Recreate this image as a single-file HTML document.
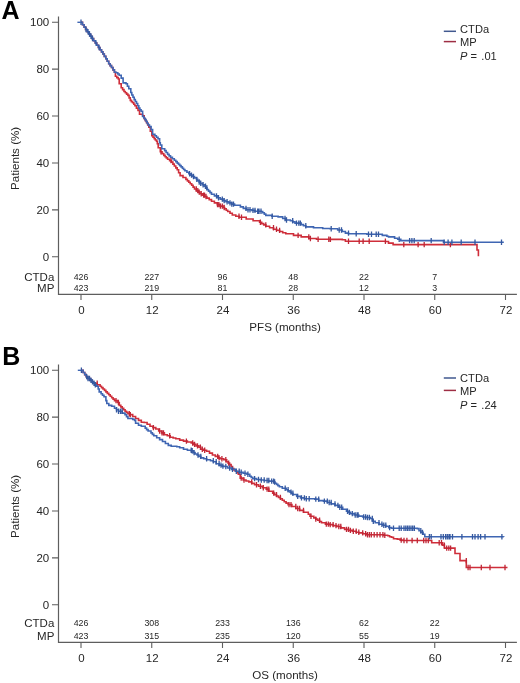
<!DOCTYPE html>
<html><head><meta charset="utf-8"><style>
html,body{margin:0;padding:0;background:#fff;}
svg{display:block;will-change:transform;}
text{font-family:"Liberation Sans",sans-serif;fill:#262626;}
.l{font-size:11.5px;}
.s{font-size:8.8px;}
.big{font-size:25px;font-weight:bold;fill:#000;}
</style></head><body>
<svg width="520" height="683" viewBox="0 0 520 683">
<path d="M58.5,16.6V294.4H516.9" fill="none" stroke="#5e5e5e" stroke-width="1.2"/>
<path d="M52,256.75H58.5M52,209.84H58.5M52,162.93H58.5M52,116.02H58.5M52,69.11H58.5M52,22.20H58.5M81.00,294.4V300.1M151.75,294.4V300.1M222.50,294.4V300.1M293.25,294.4V300.1M364.00,294.4V300.1M434.75,294.4V300.1M505.50,294.4V300.1" stroke="#5e5e5e" stroke-width="1.1"/>
<text x="49.2" y="261.00" text-anchor="end" class="l">0</text>
<text x="49.2" y="214.09" text-anchor="end" class="l">20</text>
<text x="49.2" y="167.18" text-anchor="end" class="l">40</text>
<text x="49.2" y="120.27" text-anchor="end" class="l">60</text>
<text x="49.2" y="73.36" text-anchor="end" class="l">80</text>
<text x="49.2" y="26.45" text-anchor="end" class="l">100</text>
<text x="81.50" y="314.10" text-anchor="middle" class="l">0</text>
<text x="152.25" y="314.10" text-anchor="middle" class="l">12</text>
<text x="223.00" y="314.10" text-anchor="middle" class="l">24</text>
<text x="293.75" y="314.10" text-anchor="middle" class="l">36</text>
<text x="364.50" y="314.10" text-anchor="middle" class="l">48</text>
<text x="435.25" y="314.10" text-anchor="middle" class="l">60</text>
<text x="506.00" y="314.10" text-anchor="middle" class="l">72</text>
<text x="285.10" y="330.60" text-anchor="middle" class="l" style="font-size:11.6px">PFS (months)</text>
<text transform="translate(18.9,158.4) rotate(-90)" text-anchor="middle" class="l" style="font-size:11.6px">Patients (%)</text>
<text x="1.5" y="19" class="big">A</text>
<text x="54.3" y="281.20" text-anchor="end" class="l">CTDa</text>
<text x="54.3" y="291.60" text-anchor="end" class="l">MP</text>
<text x="81.00" y="280.10" text-anchor="middle" class="s">426</text>
<text x="81.00" y="290.80" text-anchor="middle" class="s">423</text>
<text x="151.75" y="280.10" text-anchor="middle" class="s">227</text>
<text x="151.75" y="290.80" text-anchor="middle" class="s">219</text>
<text x="222.50" y="280.10" text-anchor="middle" class="s">96</text>
<text x="222.50" y="290.80" text-anchor="middle" class="s">81</text>
<text x="293.25" y="280.10" text-anchor="middle" class="s">48</text>
<text x="293.25" y="290.80" text-anchor="middle" class="s">28</text>
<text x="364.00" y="280.10" text-anchor="middle" class="s">22</text>
<text x="364.00" y="290.80" text-anchor="middle" class="s">12</text>
<text x="434.75" y="280.10" text-anchor="middle" class="s">7</text>
<text x="434.75" y="290.80" text-anchor="middle" class="s">3</text>
<path d="M443.8,31.3H456" stroke="#41598f" stroke-width="1.5"/>
<path d="M443.8,41.6H456" stroke="#9e2e44" stroke-width="1.5"/>
<text x="460.1" y="32.9" class="l" style="font-size:11.1px">CTDa</text>
<text x="460.1" y="46.3" class="l" style="font-size:11.1px">MP</text>
<text x="460" y="60.3" class="l" style="font-size:11.1px"><tspan font-style="italic">P</tspan> =<tspan dx="1.3"> .01</tspan></text>
<path d="M81.0,22.3 L82.5,22.3 L82.5,24.7 L84.1,24.7 L84.1,27.1 L85.6,27.1 L85.6,29.5 L87.2,29.5 L87.2,31.7 L88.8,31.7 L88.8,34.0 L90.4,34.0 L90.4,36.2 L92.0,36.2 L92.0,38.5 L93.6,38.5 L93.6,40.7 L95.2,40.7 L95.2,43.0 L96.8,43.0 L96.8,45.2 L98.4,45.2 L98.4,47.5 L100.0,47.5 L100.0,49.7 L101.5,49.7 L101.5,51.9 L102.9,51.9 L102.9,54.0 L104.3,54.0 L104.3,56.4 L105.8,56.4 L105.8,58.8 L107.2,58.8 L107.2,61.2 L108.7,61.2 L108.7,63.7 L110.1,63.7 L110.1,65.6 L111.5,65.6 L111.5,67.5 L113.0,67.5 L113.0,69.9 L114.4,69.9 L114.4,72.3 L115.4,72.3 L115.4,76.2 L116.8,76.2 L116.8,77.6 L118.3,77.6 L118.3,79.0 L119.2,79.0 L119.2,83.8 L121.2,83.8 L121.2,87.7 L122.6,87.7 L122.6,89.6 L124.0,89.6 L124.0,91.5 L125.3,91.5 L125.3,92.8 L126.6,92.8 L126.6,94.1 L127.9,94.1 L127.9,95.4 L129.1,95.4 L129.1,97.9 L130.3,97.9 L130.3,100.4 L131.4,100.4 L131.4,101.6 L132.6,101.6 L132.6,102.7 L133.8,102.7 L133.8,104.2 L134.9,104.2 L134.9,105.8 L136.4,105.8 L136.4,108.1 L138.0,108.1 L138.0,110.4 L139.5,110.4 L139.5,114.2 L142.6,114.2 L142.6,115.8 L144.2,115.8 L144.2,118.8 L145.3,118.8 L145.3,120.8 L146.5,120.8 L146.5,122.7 L147.7,122.7 L147.7,125.0 L148.8,125.0 L148.8,127.3 L150.3,127.3 L150.3,131.2 L151.8,131.2 L151.8,135.8 L153.0,135.8 L153.0,137.3 L154.2,137.3 L154.2,138.8 L155.3,138.8 L155.3,140.0 L156.5,140.0 L156.5,141.2 L157.3,141.2 L157.3,143.8 L158.2,143.8 L158.2,147.7 L160.3,147.7 L160.3,151.8 L162.1,151.8 L162.1,153.6 L163.8,153.6 L163.8,155.4 L165.1,155.4 L165.1,156.7 L166.3,156.7 L166.3,157.9 L167.6,157.9 L167.6,159.2 L169.6,159.2 L169.6,160.6 L171.5,160.6 L171.5,162.1 L172.9,162.1 L172.9,164.1 L174.3,164.1 L174.3,166.0 L175.8,166.0 L175.8,167.9 L177.2,167.9 L177.2,169.8 L178.6,169.8 L178.6,172.7 L180.1,172.7 L180.1,175.6 L183.0,175.6 L183.0,177.5 L185.9,177.5 L185.9,179.4 L187.4,179.4 L187.4,180.9 L188.8,180.9 L188.8,182.3 L190.2,182.3 L190.2,183.8 L191.7,183.8 L191.7,185.2 L193.1,185.2 L193.1,187.1 L194.5,187.1 L194.5,189.0 L196.3,189.0 L196.3,190.6 L198.2,190.6 L198.2,192.1 L200.0,192.1 L200.0,193.7 L202.3,193.7 L202.3,195.1 L204.6,195.1 L204.6,196.5 L206.9,196.5 L206.9,198.1 L209.2,198.1 L209.2,199.6 L211.5,199.6 L211.5,201.2 L214.4,201.2 L214.4,202.9 L217.3,202.9 L217.3,204.6 L220.2,204.6 L220.2,206.1 L223.1,206.1 L223.1,207.5 L224.6,207.5 L224.6,208.8 L226.2,208.8 L226.2,210.2 L227.7,210.2 L227.7,211.5 L230.0,211.5 L230.0,213.2 L232.3,213.2 L232.3,215.0 L235.8,215.0 L235.8,216.2 L239.2,216.2 L239.2,217.3 L246.2,217.3 L246.2,219.0 L253.1,219.0 L253.1,220.8 L259.6,220.8 L259.6,222.3 L261.7,222.3 L261.7,223.6 L263.7,223.6 L263.7,224.9 L265.8,224.9 L265.8,226.2 L269.6,226.2 L269.6,227.7 L273.5,227.7 L273.5,229.2 L276.6,229.2 L276.6,230.3 L279.6,230.3 L279.6,231.5 L282.7,231.5 L282.7,232.7 L285.8,232.7 L285.8,233.8 L293.5,233.8 L293.5,235.4 L301.2,235.4 L301.2,236.9 L308.8,236.9 L308.8,238.5 L316.5,238.5 L316.5,239.2 L330.0,239.2 L330.0,239.4 L342.3,239.4 L342.3,239.7 L345.4,239.7 L345.4,241.2 L385.4,241.2 L385.4,241.5 L388.5,241.5 L388.5,243.1 L393.1,243.1 L393.1,244.6 L477.0,244.6 L477.0,244.9 L477.0,250.0 L478.4,250.0 L478.4,256.2" fill="none" stroke="#cf2e3a" stroke-width="1.6" stroke-linejoin="miter"/>
<path d="M161.0,149.1v5.4M171.0,157.9v5.4M196.3,186.3v5.4M197.8,187.9v5.4M199.2,189.4v5.4M201.2,191.0v5.4M203.6,192.4v5.4M204.5,192.4v5.4M206.0,193.8v5.4M217.5,201.9v5.4M218.9,201.9v5.4M220.4,203.4v5.4M222.3,203.4v5.4M224.2,204.8v5.4M239.0,213.5v5.4M241.5,214.6v5.4M260.4,219.6v5.4M265.8,222.2v5.4M273.5,225.0v5.4M276.5,226.5v5.4M279.6,227.7v5.4M298.1,232.7v5.4M308.8,234.2v5.4M310.4,235.8v5.4M318.1,236.5v5.4M328.8,236.5v5.4M330.4,236.7v5.4M348.5,238.5v5.4M359.2,238.5v5.4M363.1,238.5v5.4M369.2,238.5v5.4M385.4,238.5v5.4M403.8,241.9v5.4M418.1,241.9v5.4M424.2,241.9v5.4M450.4,241.9v5.4" stroke="#bf2636" stroke-width="1.3"/>
<path d="M81.0,22.3 L82.5,22.3 L82.5,24.7 L84.1,24.7 L84.1,27.1 L85.6,27.1 L85.6,29.5 L87.2,29.5 L87.2,31.7 L88.8,31.7 L88.8,34.0 L90.4,34.0 L90.4,36.2 L92.0,36.2 L92.0,38.5 L93.6,38.5 L93.6,40.7 L95.2,40.7 L95.2,43.0 L96.8,43.0 L96.8,45.2 L98.4,45.2 L98.4,47.5 L100.0,47.5 L100.0,49.7 L101.5,49.7 L101.5,51.9 L102.9,51.9 L102.9,54.0 L104.3,54.0 L104.3,56.4 L105.8,56.4 L105.8,58.8 L107.2,58.8 L107.2,61.2 L108.7,61.2 L108.7,63.7 L110.1,63.7 L110.1,65.6 L111.5,65.6 L111.5,67.5 L113.0,67.5 L113.0,69.9 L114.4,69.9 L114.4,72.3 L116.3,72.3 L116.3,72.8 L117.8,72.8 L117.8,74.0 L119.2,74.0 L119.2,75.2 L121.2,75.2 L121.2,78.1 L123.1,78.1 L123.1,82.9 L126.0,82.9 L126.0,83.8 L127.4,83.8 L127.4,86.2 L128.8,86.2 L128.8,88.7 L130.8,88.7 L130.8,92.5 L131.8,92.5 L131.8,95.0 L133.0,95.0 L133.0,97.3 L134.2,97.3 L134.2,99.6 L135.3,99.6 L135.3,101.5 L136.5,101.5 L136.5,103.5 L137.7,103.5 L137.7,105.8 L138.8,105.8 L138.8,108.1 L139.9,108.1 L139.9,109.7 L141.1,109.7 L141.1,111.2 L142.6,111.2 L142.6,116.5 L143.8,116.5 L143.8,118.0 L144.9,118.0 L144.9,119.6 L146.1,119.6 L146.1,121.5 L147.2,121.5 L147.2,123.5 L148.3,123.5 L148.3,125.0 L149.5,125.0 L149.5,126.5 L151.1,126.5 L151.1,129.6 L152.6,129.6 L152.6,134.2 L154.9,134.2 L154.9,135.8 L156.4,135.8 L156.4,137.3 L158.0,137.3 L158.0,138.8 L159.6,138.8 L159.6,142.7 L160.3,142.7 L160.3,145.0 L161.8,145.0 L161.8,148.7 L164.7,148.7 L164.7,150.6 L166.1,150.6 L166.1,152.5 L167.6,152.5 L167.6,154.4 L169.1,154.4 L169.1,155.9 L170.5,155.9 L170.5,157.3 L172.4,157.3 L172.4,158.8 L174.3,158.8 L174.3,160.2 L175.8,160.2 L175.8,161.6 L177.2,161.6 L177.2,163.1 L178.5,163.1 L178.5,164.4 L179.8,164.4 L179.8,165.6 L181.1,165.6 L181.1,166.9 L182.4,166.9 L182.4,168.2 L183.6,168.2 L183.6,169.5 L184.9,169.5 L184.9,170.8 L186.9,170.8 L186.9,172.2 L188.8,172.2 L188.8,173.7 L190.7,173.7 L190.7,175.1 L192.6,175.1 L192.6,176.5 L194.6,176.5 L194.6,177.9 L196.5,177.9 L196.5,179.4 L197.8,179.4 L197.8,180.7 L199.0,180.7 L199.0,182.0 L200.3,182.0 L200.3,183.3 L202.2,183.3 L202.2,184.8 L204.2,184.8 L204.2,186.2 L205.6,186.2 L205.6,187.8 L207.0,187.8 L207.0,189.5 L208.5,189.5 L208.5,191.1 L210.0,191.1 L210.0,192.6 L211.5,192.6 L211.5,194.2 L214.4,194.2 L214.4,195.9 L217.3,195.9 L217.3,197.7 L220.2,197.7 L220.2,199.1 L223.1,199.1 L223.1,200.6 L225.9,200.6 L225.9,201.8 L228.8,201.8 L228.8,202.9 L231.7,202.9 L231.7,204.1 L234.6,204.1 L234.6,205.2 L240.4,205.2 L240.4,206.9 L243.3,206.9 L243.3,208.4 L246.2,208.4 L246.2,209.8 L251.9,209.8 L251.9,210.4 L255.0,210.4 L255.0,211.2 L261.2,211.2 L261.2,211.5 L262.7,211.5 L262.7,212.8 L264.3,212.8 L264.3,214.1 L265.8,214.1 L265.8,215.4 L271.9,215.4 L271.9,216.2 L278.1,216.2 L278.1,216.9 L282.7,216.9 L282.7,218.5 L285.8,218.5 L285.8,220.0 L290.4,220.0 L290.4,220.8 L292.7,220.8 L292.7,221.9 L295.0,221.9 L295.0,223.1 L301.2,223.1 L301.2,224.6 L303.5,224.6 L303.5,225.8 L305.8,225.8 L305.8,226.9 L313.5,226.9 L313.5,227.7 L322.7,227.7 L322.7,228.5 L330.0,228.5 L330.0,228.7 L337.7,228.7 L337.7,230.0 L342.3,230.0 L342.3,231.5 L345.4,231.5 L345.4,233.1 L348.5,233.1 L348.5,233.8 L366.9,233.8 L366.9,234.2 L382.3,234.2 L382.3,235.4 L386.9,235.4 L386.9,236.2 L388.5,236.2 L388.5,236.9 L394.6,236.9 L394.6,238.2 L397.7,238.2 L397.7,239.2 L400.8,239.2 L400.8,240.6 L443.5,240.6 L443.5,240.8 L443.5,242.3 L503.8,242.3" fill="none" stroke="#3f66b3" stroke-width="1.6" stroke-linejoin="miter"/>
<path d="M81.0,19.6v5.4M86.0,26.8v5.4M88.0,29.0v5.4M89.5,31.3v5.4M91.0,33.5v5.4M92.5,35.8v5.4M96.0,40.3v5.4M99.0,44.8v5.4M189.6,171.0v5.4M191.5,172.4v5.4M193.5,173.8v5.4M196.8,176.7v5.4M199.2,179.3v5.4M200.7,180.6v5.4M203.1,182.1v5.4M205.5,183.5v5.4M206.9,185.2v5.4M216.5,193.2v5.4M218.5,195.0v5.4M222.3,196.4v5.4M224.2,197.9v5.4M227.1,199.1v5.4M230.0,200.2v5.4M231.8,201.4v5.4M233.5,201.4v5.4M246.0,205.7v5.4M248.0,207.1v5.4M250.0,207.1v5.4M253.0,207.7v5.4M255.0,207.7v5.4M257.7,208.5v5.4M259.0,208.5v5.4M261.0,208.5v5.4M272.2,213.5v5.4M285.0,215.8v5.4M286.5,217.3v5.4M292.7,218.1v5.4M296.5,220.4v5.4M298.8,220.4v5.4M300.4,220.4v5.4M305.8,223.1v5.4M331.2,226.0v5.4M339.2,227.3v5.4M341.5,227.3v5.4M348.5,230.4v5.4M356.2,231.1v5.4M368.5,231.5v5.4M371.5,231.5v5.4M376.2,231.5v5.4M378.5,231.5v5.4M399.2,236.5v5.4M409.6,237.9v5.4M411.9,237.9v5.4M414.2,237.9v5.4M431.2,237.9v5.4M444.2,239.6v5.4M448.1,239.6v5.4M451.9,239.6v5.4M461.2,239.6v5.4M475.0,239.6v5.4M501.5,239.6v5.4" stroke="#34589f" stroke-width="1.3"/>
<path d="M77.4,22.3H81.0" stroke="#3f66b3" stroke-width="1.4"/>
<path d="M58.5,364.6V642.4H516.9" fill="none" stroke="#5e5e5e" stroke-width="1.2"/>
<path d="M52,604.75H58.5M52,557.84H58.5M52,510.93H58.5M52,464.02H58.5M52,417.11H58.5M52,370.20H58.5M81.00,642.4V648.1M151.75,642.4V648.1M222.50,642.4V648.1M293.25,642.4V648.1M364.00,642.4V648.1M434.75,642.4V648.1M505.50,642.4V648.1" stroke="#5e5e5e" stroke-width="1.1"/>
<text x="49.2" y="609.00" text-anchor="end" class="l">0</text>
<text x="49.2" y="562.09" text-anchor="end" class="l">20</text>
<text x="49.2" y="515.18" text-anchor="end" class="l">40</text>
<text x="49.2" y="468.27" text-anchor="end" class="l">60</text>
<text x="49.2" y="421.36" text-anchor="end" class="l">80</text>
<text x="49.2" y="374.45" text-anchor="end" class="l">100</text>
<text x="81.50" y="662.10" text-anchor="middle" class="l">0</text>
<text x="152.25" y="662.10" text-anchor="middle" class="l">12</text>
<text x="223.00" y="662.10" text-anchor="middle" class="l">24</text>
<text x="293.75" y="662.10" text-anchor="middle" class="l">36</text>
<text x="364.50" y="662.10" text-anchor="middle" class="l">48</text>
<text x="435.25" y="662.10" text-anchor="middle" class="l">60</text>
<text x="506.00" y="662.10" text-anchor="middle" class="l">72</text>
<text x="285.10" y="678.60" text-anchor="middle" class="l" style="font-size:11.6px">OS (months)</text>
<text transform="translate(18.9,506.4) rotate(-90)" text-anchor="middle" class="l" style="font-size:11.6px">Patients (%)</text>
<text x="2.2" y="365.1" class="big">B</text>
<text x="54.3" y="626.70" text-anchor="end" class="l">CTDa</text>
<text x="54.3" y="639.60" text-anchor="end" class="l">MP</text>
<text x="81.00" y="625.60" text-anchor="middle" class="s">426</text>
<text x="81.00" y="638.80" text-anchor="middle" class="s">423</text>
<text x="151.75" y="625.60" text-anchor="middle" class="s">308</text>
<text x="151.75" y="638.80" text-anchor="middle" class="s">315</text>
<text x="222.50" y="625.60" text-anchor="middle" class="s">233</text>
<text x="222.50" y="638.80" text-anchor="middle" class="s">235</text>
<text x="293.25" y="625.60" text-anchor="middle" class="s">136</text>
<text x="293.25" y="638.80" text-anchor="middle" class="s">120</text>
<text x="364.00" y="625.60" text-anchor="middle" class="s">62</text>
<text x="364.00" y="638.80" text-anchor="middle" class="s">55</text>
<text x="434.75" y="625.60" text-anchor="middle" class="s">22</text>
<text x="434.75" y="638.80" text-anchor="middle" class="s">19</text>
<path d="M443.8,378.0H456" stroke="#41598f" stroke-width="1.5"/>
<path d="M443.8,390.4H456" stroke="#9e2e44" stroke-width="1.5"/>
<text x="460.1" y="381.5" class="l" style="font-size:11.1px">CTDa</text>
<text x="460.1" y="394.90000000000003" class="l" style="font-size:11.1px">MP</text>
<text x="460" y="408.90000000000003" class="l" style="font-size:11.1px"><tspan font-style="italic">P</tspan> =<tspan dx="1.3"> .24</tspan></text>
<path d="M81.4,370.3 L83.1,370.3 L83.1,372.5 L84.7,372.5 L84.7,374.6 L86.2,374.6 L86.2,376.6 L87.6,376.6 L87.6,378.5 L90.5,378.5 L90.5,380.4 L92.0,380.4 L92.0,381.9 L93.4,381.9 L93.4,383.3 L97.2,383.3 L97.2,384.7 L100.1,384.7 L100.1,386.2 L101.5,386.2 L101.5,387.6 L103.0,387.6 L103.0,389.0 L104.5,389.0 L104.5,390.4 L105.9,390.4 L105.9,391.9 L107.3,391.9 L107.3,393.4 L108.8,393.4 L108.8,394.8 L110.2,394.8 L110.2,396.2 L111.7,396.2 L111.7,397.7 L113.1,397.7 L113.1,399.1 L114.5,399.1 L114.5,400.6 L117.4,400.6 L117.4,402.5 L119.3,402.5 L119.3,405.4 L120.8,405.4 L120.8,406.9 L122.2,406.9 L122.2,408.3 L123.7,408.3 L123.7,409.8 L125.1,409.8 L125.1,411.2 L126.5,411.2 L126.5,412.4 L127.9,412.4 L127.9,413.7 L129.8,413.7 L129.8,414.6 L132.7,414.6 L132.7,416.5 L135.6,416.5 L135.6,418.5 L138.5,418.5 L138.5,420.4 L141.3,420.4 L141.3,422.3 L144.2,422.3 L144.2,422.5 L147.1,422.5 L147.1,424.2 L150.0,424.2 L150.0,426.2 L152.9,426.2 L152.9,427.6 L155.8,427.6 L155.8,429.0 L158.7,429.0 L158.7,431.0 L161.5,431.0 L161.5,432.9 L164.4,432.9 L164.4,434.8 L167.3,434.8 L167.3,435.8 L170.2,435.8 L170.2,437.2 L173.1,437.2 L173.1,438.0 L175.8,438.0 L175.8,438.7 L179.7,438.7 L179.7,440.1 L183.5,440.1 L183.5,441.1 L187.4,441.1 L187.4,442.0 L191.2,442.0 L191.2,443.0 L193.2,443.0 L193.2,444.4 L196.0,444.4 L196.0,445.9 L198.9,445.9 L198.9,447.3 L200.8,447.3 L200.8,449.2 L203.7,449.2 L203.7,450.2 L206.6,450.2 L206.6,451.2 L209.5,451.2 L209.5,453.1 L212.4,453.1 L212.4,455.0 L215.3,455.0 L215.3,456.4 L218.2,456.4 L218.2,457.9 L220.0,457.9 L220.0,458.8 L223.8,458.8 L223.8,459.8 L226.7,459.8 L226.7,461.7 L228.1,461.7 L228.1,463.1 L229.6,463.1 L229.6,464.6 L231.1,464.6 L231.1,466.6 L232.5,466.6 L232.5,468.5 L233.9,468.5 L233.9,469.9 L235.4,469.9 L235.4,471.3 L236.9,471.3 L236.9,472.8 L238.3,472.8 L238.3,474.2 L240.2,474.2 L240.2,478.1 L243.1,478.1 L243.1,480.0 L246.0,480.0 L246.0,481.0 L248.8,481.0 L248.8,481.9 L251.7,481.9 L251.7,483.4 L254.6,483.4 L254.6,484.8 L258.5,484.8 L258.5,486.3 L262.3,486.3 L262.3,487.7 L266.2,487.7 L266.2,489.1 L268.8,489.1 L268.8,491.2 L272.7,491.2 L272.7,493.1 L274.6,493.1 L274.6,494.6 L276.5,494.6 L276.5,496.0 L278.4,496.0 L278.4,497.4 L280.4,497.4 L280.4,498.8 L282.3,498.8 L282.3,500.2 L284.2,500.2 L284.2,501.7 L286.1,501.7 L286.1,503.1 L288.1,503.1 L288.1,504.6 L291.9,504.6 L291.9,506.5 L295.8,506.5 L295.8,508.5 L299.6,508.5 L299.6,510.4 L303.5,510.4 L303.5,512.3 L308.3,512.3 L308.3,514.2 L310.0,514.2 L310.0,516.2 L313.8,516.2 L313.8,517.9 L315.8,517.9 L315.8,519.1 L317.7,519.1 L317.7,520.3 L319.6,520.3 L319.6,521.5 L321.5,521.5 L321.5,522.7 L325.4,522.7 L325.4,524.1 L329.2,524.1 L329.2,524.6 L333.1,524.6 L333.1,525.6 L336.9,525.6 L336.9,526.5 L340.8,526.5 L340.8,527.9 L344.6,527.9 L344.6,529.4 L348.5,529.4 L348.5,530.4 L352.3,530.4 L352.3,531.3 L356.2,531.3 L356.2,532.3 L358.8,532.3 L358.8,532.9 L362.7,532.9 L362.7,533.8 L366.5,533.8 L366.5,534.8 L383.8,534.8 L383.8,535.3 L387.7,535.3 L387.7,535.8 L389.6,535.8 L389.6,536.7 L391.5,536.7 L391.5,537.2 L393.5,537.2 L393.5,538.7 L397.3,538.7 L397.3,539.1 L400.2,539.1 L400.2,540.1 L403.1,540.1 L403.1,540.5 L430.0,540.5 L431.7,540.5 L431.7,542.8 L441.5,542.8 L442.7,542.8 L442.7,545.1 L444.4,545.1 L444.4,548.1 L455.0,548.1 L455.0,553.5 L460.0,553.5 L460.0,560.6 L466.3,560.6 L466.3,567.5 L507.5,567.5" fill="none" stroke="#cf2e3a" stroke-width="1.6" stroke-linejoin="miter"/>
<path d="M97.2,380.6v5.4M116.0,397.9v5.4M118.4,399.8v5.4M129.3,411.0v5.4M130.3,411.9v5.4M153.4,424.9v5.4M159.6,428.3v5.4M162.0,430.2v5.4M163.5,430.2v5.4M169.7,433.1v5.4M186.4,438.4v5.4M192.7,440.3v5.4M194.6,441.7v5.4M197.5,443.2v5.4M200.4,444.6v5.4M202.3,446.5v5.4M204.7,447.5v5.4M217.7,453.7v5.4M219.1,455.2v5.4M221.9,456.1v5.4M225.8,457.1v5.4M228.7,460.4v5.4M241.2,475.4v5.4M244.0,477.3v5.4M251.7,479.2v5.4M256.5,482.1v5.4M260.4,483.6v5.4M263.3,485.0v5.4M267.1,486.4v5.4M268.8,486.4v5.4M273.7,490.4v5.4M276.5,491.9v5.4M280.4,494.7v5.4M289.0,501.9v5.4M291.0,501.9v5.4M295.8,503.8v5.4M297.7,505.8v5.4M299.6,505.8v5.4M303.5,507.7v5.4M311.0,513.5v5.4M315.8,516.4v5.4M319.6,517.6v5.4M326.3,521.4v5.4M328.3,521.4v5.4M330.2,521.9v5.4M333.1,521.9v5.4M336.0,522.9v5.4M338.8,523.8v5.4M340.8,523.8v5.4M346.5,526.7v5.4M348.5,526.7v5.4M350.4,527.7v5.4M353.3,528.6v5.4M356.2,528.6v5.4M358.8,529.6v5.4M362.7,530.2v5.4M365.6,531.1v5.4M367.5,532.1v5.4M369.4,532.1v5.4M371.3,532.1v5.4M374.2,532.1v5.4M377.1,532.1v5.4M380.0,532.1v5.4M382.9,532.1v5.4M384.8,532.6v5.4M401.2,537.4v5.4M404.0,537.8v5.4M406.9,537.8v5.4M412.1,537.8v5.4M417.3,537.8v5.4M423.7,537.8v5.4M426.0,537.8v5.4M428.3,537.8v5.4M439.2,540.1v5.4M441.5,540.1v5.4M444.4,542.4v5.4M446.7,545.4v5.4M448.8,545.4v5.4M450.6,545.4v5.4M466.3,557.9v5.4M468.1,564.8v5.4M470.0,564.8v5.4M481.3,564.8v5.4M490.0,564.8v5.4M505.0,564.8v5.4" stroke="#bf2636" stroke-width="1.3"/>
<path d="M81.4,370.3 L83.1,370.3 L83.1,372.5 L84.7,372.5 L84.7,374.6 L86.2,374.6 L86.2,376.6 L87.6,376.6 L87.6,378.5 L90.5,378.5 L90.5,380.4 L92.0,380.4 L92.0,381.9 L93.4,381.9 L93.4,383.3 L94.8,383.3 L94.8,384.8 L96.3,384.8 L96.3,386.2 L98.2,386.2 L98.2,389.0 L99.2,389.0 L99.2,391.9 L101.1,391.9 L101.1,393.8 L102.5,393.8 L102.5,395.2 L104.0,395.2 L104.0,396.7 L105.9,396.7 L105.9,400.6 L106.8,400.6 L106.8,403.5 L108.8,403.5 L108.8,405.4 L111.7,405.4 L111.7,406.3 L114.5,406.3 L114.5,408.3 L116.5,408.3 L116.5,409.8 L118.4,409.8 L118.4,411.2 L122.2,411.2 L122.2,413.1 L125.0,413.1 L125.0,414.6 L126.5,414.6 L126.5,416.6 L127.9,416.6 L127.9,418.5 L132.7,418.5 L132.7,419.4 L134.6,419.4 L134.6,420.4 L135.6,420.4 L135.6,423.3 L138.5,423.3 L138.5,425.2 L141.3,425.2 L141.3,426.2 L145.2,426.2 L145.2,428.1 L146.6,428.1 L146.6,429.6 L148.1,429.6 L148.1,431.0 L151.0,431.0 L151.0,432.9 L152.4,432.9 L152.4,434.4 L153.8,434.4 L153.8,435.8 L156.7,435.8 L156.7,437.7 L159.6,437.7 L159.6,439.6 L162.5,439.6 L162.5,441.5 L165.4,441.5 L165.4,443.5 L168.3,443.5 L168.3,445.4 L171.2,445.4 L171.2,446.3 L176.8,446.3 L176.8,446.8 L179.7,446.8 L179.7,447.8 L183.5,447.8 L183.5,449.2 L187.4,449.2 L187.4,450.2 L191.2,450.2 L191.2,450.7 L193.2,450.7 L193.2,452.6 L195.1,452.6 L195.1,454.0 L197.0,454.0 L197.0,455.0 L198.9,455.0 L198.9,456.4 L200.8,456.4 L200.8,457.9 L203.7,457.9 L203.7,458.8 L206.6,458.8 L206.6,459.8 L210.5,459.8 L210.5,460.8 L213.3,460.8 L213.3,461.7 L216.2,461.7 L216.2,463.7 L219.1,463.7 L219.1,465.1 L222.0,465.1 L222.0,466.1 L223.8,466.1 L223.8,466.5 L227.7,466.5 L227.7,468.0 L231.5,468.0 L231.5,469.4 L235.4,469.4 L235.4,471.3 L239.2,471.3 L239.2,472.3 L243.1,472.3 L243.1,473.3 L246.9,473.3 L246.9,474.2 L249.8,474.2 L249.8,476.2 L251.2,476.2 L251.2,477.4 L252.7,477.4 L252.7,478.6 L256.5,478.6 L256.5,479.5 L260.4,479.5 L260.4,480.0 L264.2,480.0 L264.2,480.5 L268.8,480.5 L268.8,481.1 L273.7,481.1 L273.7,482.0 L275.1,482.0 L275.1,483.2 L276.5,483.2 L276.5,484.4 L277.9,484.4 L277.9,485.6 L279.4,485.6 L279.4,486.8 L282.3,486.8 L282.3,488.3 L286.2,488.3 L286.2,489.7 L288.1,489.7 L288.1,490.9 L290.0,490.9 L290.0,492.1 L291.4,492.1 L291.4,493.3 L292.9,493.3 L292.9,494.5 L296.7,494.5 L296.7,496.4 L300.6,496.4 L300.6,497.9 L304.4,497.9 L304.4,498.8 L310.0,498.8 L314.8,498.8 L314.8,499.1 L318.7,499.1 L318.7,500.6 L323.5,500.6 L323.5,501.1 L327.3,501.1 L327.3,502.5 L331.2,502.5 L331.2,503.9 L335.0,503.9 L335.0,505.4 L338.8,505.4 L338.8,507.3 L342.7,507.3 L342.7,509.2 L346.5,509.2 L346.5,511.2 L348.4,511.2 L348.4,512.4 L350.4,512.4 L350.4,513.6 L354.2,513.6 L354.2,515.0 L358.8,515.0 L358.8,516.1 L362.7,516.1 L362.7,517.0 L366.5,517.0 L366.5,517.5 L370.4,517.5 L370.4,518.5 L372.3,518.5 L372.3,521.3 L375.2,521.3 L375.2,522.8 L379.0,522.8 L379.0,524.2 L382.9,524.2 L382.9,525.2 L385.8,525.2 L385.8,526.2 L388.7,526.2 L388.7,527.6 L391.5,527.6 L391.5,528.3 L417.3,528.3 L417.3,528.6 L419.0,528.6 L419.0,530.7 L420.8,530.7 L420.8,532.4 L423.1,532.4 L423.1,534.2 L424.8,534.2 L424.8,536.7 L503.8,536.7 L503.8,536.8" fill="none" stroke="#3f66b3" stroke-width="1.6" stroke-linejoin="miter"/>
<path d="M81.4,367.6v5.4M86.7,373.9v5.4M88.0,375.8v5.4M89.5,375.8v5.4M91.0,377.7v5.4M92.5,379.2v5.4M94.0,380.6v5.4M95.3,382.1v5.4M116.5,407.1v5.4M118.5,408.5v5.4M120.5,408.5v5.4M122.2,408.5v5.4M191.2,447.5v5.4M192.2,448.0v5.4M194.1,449.9v5.4M198.0,452.3v5.4M200.8,453.7v5.4M206.6,456.1v5.4M213.3,458.1v5.4M216.2,459.0v5.4M219.1,461.0v5.4M221.0,462.4v5.4M222.9,463.4v5.4M225.8,463.8v5.4M229.6,465.3v5.4M232.5,466.7v5.4M236.3,468.6v5.4M239.2,468.6v5.4M241.2,469.6v5.4M245.0,470.6v5.4M247.9,471.5v5.4M254.6,475.9v5.4M258.5,476.8v5.4M261.3,477.3v5.4M264.2,477.3v5.4M267.1,477.8v5.4M268.8,477.8v5.4M271.7,478.4v5.4M273.7,478.4v5.4M274.6,479.3v5.4M285.2,485.6v5.4M288.1,487.0v5.4M291.0,489.4v5.4M292.9,490.6v5.4M297.7,493.7v5.4M301.5,495.2v5.4M304.4,495.2v5.4M306.3,496.1v5.4M309.2,496.1v5.4M315.8,496.4v5.4M318.7,496.4v5.4M324.4,498.4v5.4M327.3,498.4v5.4M329.2,499.8v5.4M331.2,499.8v5.4M335.0,501.2v5.4M337.9,502.7v5.4M339.8,504.6v5.4M341.7,504.6v5.4M347.5,508.5v5.4M349.4,509.7v5.4M352.3,510.9v5.4M355.2,512.3v5.4M357.1,512.3v5.4M358.1,512.3v5.4M363.7,514.3v5.4M365.6,514.3v5.4M367.5,514.8v5.4M369.4,514.8v5.4M372.3,515.8v5.4M373.3,518.6v5.4M379.0,520.1v5.4M381.9,521.5v5.4M383.8,522.5v5.4M385.8,522.5v5.4M389.6,524.9v5.4M393.5,525.6v5.4M399.2,525.6v5.4M401.2,525.6v5.4M404.0,525.6v5.4M405.8,525.6v5.4M407.5,525.6v5.4M409.2,525.6v5.4M411.0,525.6v5.4M412.7,525.6v5.4M414.4,525.6v5.4M420.8,528.0v5.4M422.5,529.7v5.4M429.4,534.0v5.4M431.2,534.0v5.4M441.0,534.0v5.4M443.3,534.0v5.4M445.6,534.0v5.4M447.3,534.0v5.4M449.0,534.0v5.4M450.0,534.0v5.4M452.5,534.0v5.4M461.9,534.0v5.4M472.5,534.0v5.4M475.0,534.0v5.4M478.1,534.0v5.4M480.6,534.0v5.4M485.0,534.0v5.4M501.9,534.0v5.4" stroke="#34589f" stroke-width="1.3"/>
<path d="M77.8,370.3H81.4" stroke="#3f66b3" stroke-width="1.4"/>
</svg>
</body></html>
